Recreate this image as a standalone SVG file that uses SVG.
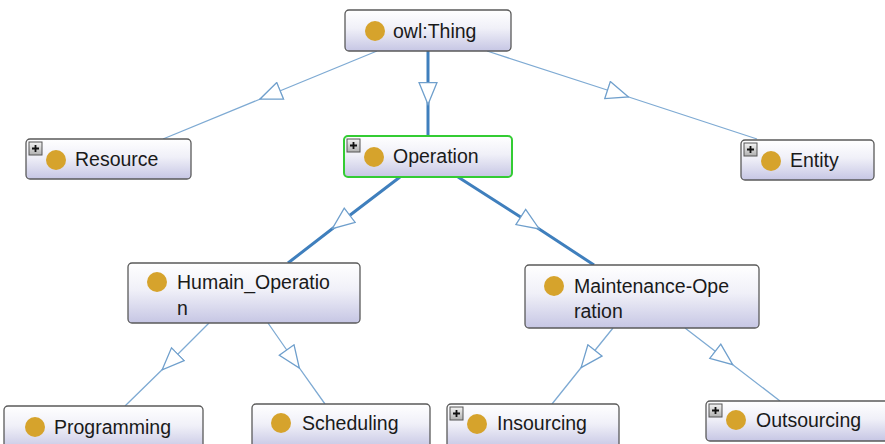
<svg xmlns="http://www.w3.org/2000/svg" width="885" height="444" viewBox="0 0 885 444">
  <defs>
    <linearGradient id="nodeFill" x1="0" y1="0" x2="0" y2="1">
      <stop offset="0" stop-color="#ffffff"/>
      <stop offset="0.45" stop-color="#f0f0f8"/>
      <stop offset="1" stop-color="#c6c6e4"/>
    </linearGradient>
    <linearGradient id="plusFill" x1="0" y1="0" x2="0" y2="1">
      <stop offset="0" stop-color="#f4f4f4"/>
      <stop offset="1" stop-color="#b0b0b0"/>
    </linearGradient>
    <marker id="tri" viewBox="0 0 24 20" markerWidth="24" markerHeight="20" refX="12" refY="10" orient="auto" markerUnits="userSpaceOnUse">
      <path d="M1,1 L23,10 L1,19 Z" fill="#ffffff" stroke="#6f9fcc" stroke-width="1.3" stroke-linejoin="miter"/>
    </marker>
    <g id="plus">
      <rect x="0" y="0" width="13" height="13" fill="url(#plusFill)" stroke="#555" stroke-width="1"/>
      <path d="M3,6.5 H10 M6.5,3 V10" stroke="#111" stroke-width="1.8"/>
    </g>
  </defs>
  <style>
    .box { fill: url(#nodeFill); stroke: #5a5a5a; stroke-width: 1.3; }
    .sel { stroke: #33cc33; stroke-width: 2; }
    .dot { fill: #d6a32c; }
    .lbl { font-family: "Liberation Sans", Arial, sans-serif; font-size: 19.5px; fill: #1a1a1a; }
    .thin { fill: none; stroke: #7eaad3; stroke-width: 1.3; marker-mid: url(#tri); }
    .thick { fill: none; stroke: #3f7fbd; stroke-width: 3; marker-mid: url(#tri); }
  </style>

  <rect width="885" height="444" fill="#ffffff"/>

  <!-- subclass connectors, arrowhead at the middle of each edge -->
  <g id="connectors">
    <path class="thin" d="M377,51 L270,95 L163,139"/>
    <path class="thick" d="M428,51 L428,93.5 L428,136"/>
    <path class="thin" d="M487,51 L618,93.5 L757,139"/>
    <path class="thick" d="M400,177 L341,222 L288,263"/>
    <path class="thick" d="M458,177 L530,223 L594,265"/>
    <path class="thin" d="M209,323 L170,362 L125,406"/>
    <path class="thin" d="M268,323 L293,359 L325,404"/>
    <path class="thin" d="M613,328 L588,359 L552,404"/>
    <path class="thin" d="M685,328 L724,358 L780,401"/>
  </g>

  <g id="owl-thing">
    <rect class="box" x="345" y="10" width="166" height="41" rx="4"/>
    <circle class="dot" cx="375" cy="31" r="10"/>
    <text class="lbl" x="393" y="38">owl:Thing</text>
  </g>

  <g id="resource">
    <rect class="box" x="26" y="139" width="165" height="40" rx="4"/>
    <use href="#plus" x="29" y="142"/>
    <circle class="dot" cx="56" cy="160" r="10"/>
    <text class="lbl" x="75" y="166">Resource</text>
  </g>

  <g id="operation">
    <rect class="box sel" x="344" y="136" width="168" height="41" rx="4"/>
    <use href="#plus" x="347" y="139"/>
    <circle class="dot" cx="374" cy="157" r="10"/>
    <text class="lbl" x="393" y="163">Operation</text>
  </g>

  <g id="entity">
    <rect class="box" x="741" y="140" width="133" height="40" rx="4"/>
    <use href="#plus" x="744" y="143"/>
    <circle class="dot" cx="771" cy="161" r="10"/>
    <text class="lbl" x="790" y="167">Entity</text>
  </g>

  <g id="humain-operation">
    <rect class="box" x="128" y="263" width="232" height="60" rx="4"/>
    <circle class="dot" cx="157" cy="282" r="10"/>
    <text class="lbl" x="177" y="289">Humain_Operatio</text>
    <text class="lbl" x="177" y="315">n</text>
  </g>

  <g id="maintenance-operation">
    <rect class="box" x="525" y="265" width="234" height="63" rx="4"/>
    <circle class="dot" cx="554" cy="286" r="10"/>
    <text class="lbl" x="574" y="293">Maintenance-Ope</text>
    <text class="lbl" x="574" y="318">ration</text>
  </g>

  <g id="programming">
    <rect class="box" x="4" y="406" width="199" height="44" rx="4"/>
    <circle class="dot" cx="35" cy="427" r="10"/>
    <text class="lbl" x="54" y="434">Programming</text>
  </g>

  <g id="scheduling">
    <rect class="box" x="252" y="404" width="178" height="44" rx="4"/>
    <circle class="dot" cx="281" cy="423" r="10"/>
    <text class="lbl" x="302" y="430">Scheduling</text>
  </g>

  <g id="insourcing">
    <rect class="box" x="447" y="404" width="172" height="44" rx="4"/>
    <use href="#plus" x="450" y="407"/>
    <circle class="dot" cx="477" cy="424" r="10"/>
    <text class="lbl" x="497" y="430">Insourcing</text>
  </g>

  <g id="outsourcing">
    <rect class="box" x="706" y="401" width="184" height="40" rx="4"/>
    <use href="#plus" x="709" y="404"/>
    <circle class="dot" cx="736" cy="420" r="10"/>
    <text class="lbl" x="756" y="427">Outsourcing</text>
  </g>
</svg>
